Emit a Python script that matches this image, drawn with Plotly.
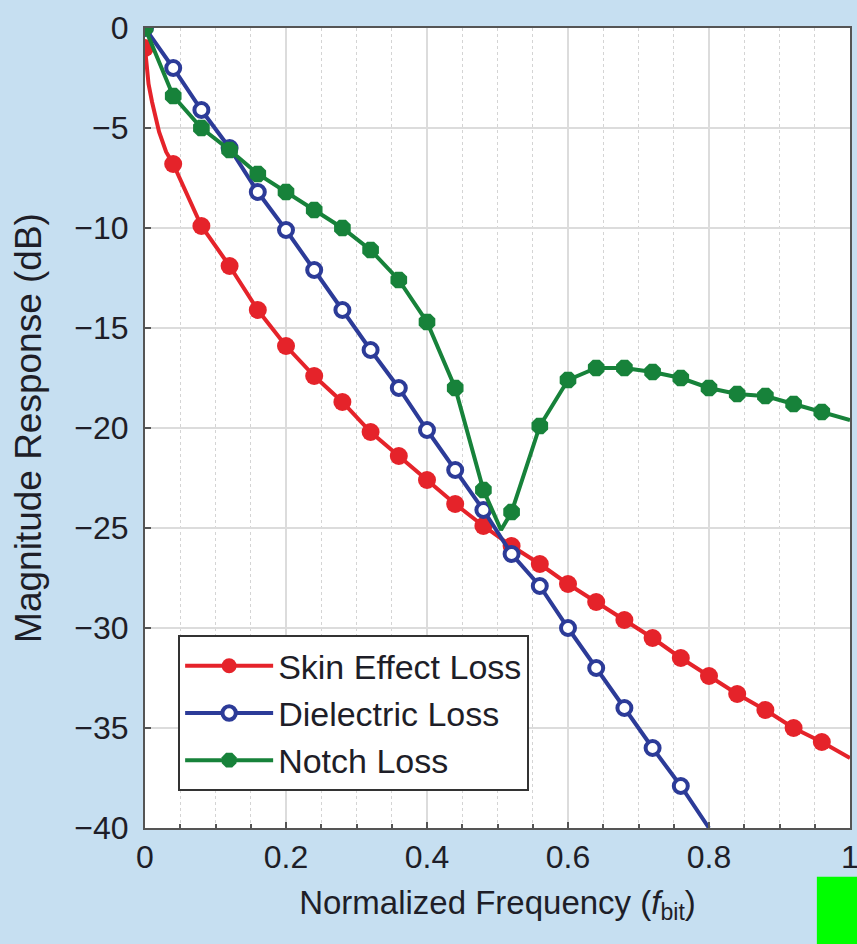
import plotly.graph_objects as go

# ---- data ----
skin_x = [0, 0.005, 0.01, 0.02, 0.03, 0.04, 0.08, 0.12, 0.16, 0.20, 0.24, 0.28, 0.32, 0.36,
          0.40, 0.44, 0.48, 0.52, 0.56, 0.60, 0.64, 0.68, 0.72, 0.76, 0.80, 0.84, 0.88,
          0.92, 0.96, 1.00]
skin_y = [-1.0, -2.8, -3.7, -5.2, -6.2, -6.8, -9.9, -11.9, -14.1, -15.9, -17.4, -18.7,
          -20.2, -21.4, -22.6, -23.8, -24.9, -25.9, -26.8, -27.8, -28.7, -29.6, -30.5,
          -31.5, -32.4, -33.3, -34.1, -35.0, -35.7, -36.5]

diel_x = [0, 0.04, 0.08, 0.12, 0.16, 0.20, 0.24, 0.28, 0.32, 0.36, 0.40, 0.44, 0.48,
          0.52, 0.56, 0.60, 0.64, 0.68, 0.72, 0.76, 0.80]
diel_y = [0, -2.0, -4.1, -6.0, -8.2, -10.1, -12.1, -14.1, -16.1, -18.0, -20.1, -22.1,
          -24.1, -26.3, -27.9, -30.0, -32.0, -34.0, -36.0, -37.9, -40.0]

notch_x = [0, 0.04, 0.08, 0.12, 0.16, 0.20, 0.24, 0.28, 0.32, 0.36, 0.40, 0.44, 0.48,
           0.505, 0.52, 0.56, 0.60, 0.64, 0.68, 0.72, 0.76, 0.80, 0.84, 0.88, 0.92,
           0.96, 1.00]
notch_y = [0, -3.4, -5.0, -6.1, -7.3, -8.2, -9.1, -10.0, -11.1, -12.6, -14.7, -18.0,
           -23.1, -25.1, -24.2, -19.9, -17.6, -17.0, -17.0, -17.2, -17.5, -18.0, -18.3,
           -18.4, -18.8, -19.2, -19.6]

series_names = ["Skin Effect Loss", "Dielectric Loss", "Notch Loss"]
x_ticks = [0, 0.2, 0.4, 0.6, 0.8, 1]
x_tick_text = ["0", "0.2", "0.4", "0.6", "0.8", "1"]
y_ticks = [0, -5, -10, -15, -20, -25, -30, -35, -40]

RED = "#e5232a"
BLUE = "#2c3b98"
GREEN = "#17823a"
FONT = "Liberation Sans, Arial, sans-serif"
TXT = "#1e1e28"


def marker_sizes(xs, last_x, size):
    out = []
    for x in xs:
        k = round(x / 0.04)
        on_grid = abs(k * 0.04 - x) < 1e-9
        out.append(size if (on_grid and x < last_x - 1e-9) else 0)
    return out


fig = go.Figure()
fig.add_trace(go.Scatter(
    x=skin_x, y=skin_y, name=series_names[0], mode="lines+markers",
    line=dict(color=RED, width=4),
    marker=dict(symbol="circle", color=RED, size=marker_sizes(skin_x, 1.0, 18),
                opacity=1, line=dict(width=0)),
))
fig.add_trace(go.Scatter(
    x=diel_x, y=diel_y, name=series_names[1], mode="lines+markers",
    line=dict(color=BLUE, width=4),
    marker=dict(symbol="circle", color="white", size=marker_sizes(diel_x, 0.8, 14),
                opacity=1, line=dict(color=BLUE, width=4)),
))
fig.add_trace(go.Scatter(
    x=notch_x, y=notch_y, name=series_names[2], mode="lines+markers",
    line=dict(color=GREEN, width=4),
    marker=dict(symbol="octagon", color=GREEN, size=marker_sizes(notch_x, 1.0, 18),
                opacity=1, line=dict(width=0)),
))

axis_common = dict(
    showline=True, linecolor="#555555", linewidth=2, mirror=True,
    ticks="inside", ticklen=6, tickcolor="#555555", tickwidth=2,
    showgrid=True, gridcolor="#dcdcdc", gridwidth=1.5, zeroline=False,
    tickfont=dict(family=FONT, size=32, color=TXT),
    automargin=False, ticklabeloverflow="allow",
)

fig.update_xaxes(
    range=[0, 1], tickvals=x_ticks, ticktext=x_tick_text,
    minor=dict(dtick=0.05, tick0=0, ticks="inside", ticklen=4, tickcolor="#555555",
               showgrid=True, gridcolor="#d4d4d4", griddash="dot", gridwidth=1),
    title=dict(text="Normalized Frequency (<i>f</i><sub>bit</sub>)",
               font=dict(family=FONT, size=33, color=TXT), standoff=16),
    **axis_common,
)
fig.update_yaxes(
    range=[-40, 0], tickvals=y_ticks, ticklabelstandoff=8,
    title=dict(text="Magnitude Response (dB)",
               font=dict(family=FONT, size=37, color=TXT), standoff=21),
    **axis_common,
)

fig.update_layout(
    width=857, height=944,
    margin=dict(l=145, r=7, t=28, b=116, autoexpand=False),
    paper_bgcolor="#c6dff1", plot_bgcolor="white",
    showlegend=True,
    legend=dict(
        x=0.047, y=0.241, xanchor="left", yanchor="top",
        bgcolor="white", bordercolor="#333333", borderwidth=2,
        font=dict(family=FONT, size=34, color=TXT),
        itemwidth=88, tracegroupgap=0,
    ),
    shapes=[dict(type="rect", xref="paper", yref="paper",
                 x0=0.953, x1=1.02, y0=-0.061, y1=-0.16,
                 fillcolor="#00ff00", line=dict(width=0), layer="above")],
)

fig.write_html("out.html", config={"displayModeBar": False},
               post_script="document.body.style.margin='0';document.body.style.overflow='hidden';")
